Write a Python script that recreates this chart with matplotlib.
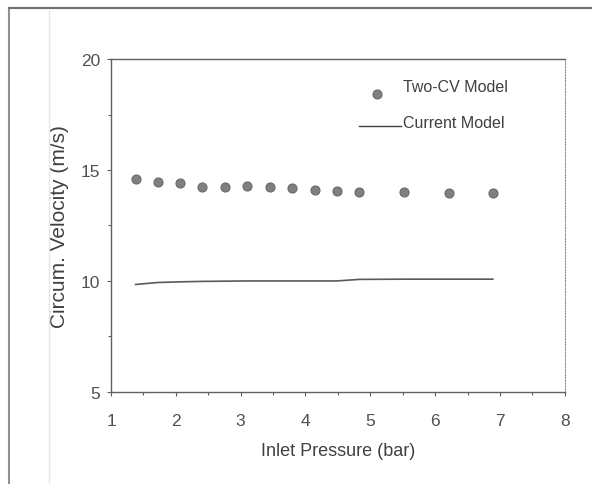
import numpy as np
import matplotlib
matplotlib.use("Agg")
import matplotlib.pyplot as plt
from matplotlib.lines import Line2D

plt.rcParams.update({"font.family": ["Liberation Sans", "DejaVu Sans"]})

# inlet pressure (bar), 20..70 psi in 5 psi steps, then 80, 90, 100 psi
pressure = [1.38, 1.72, 2.07, 2.41, 2.76, 3.10, 3.45, 3.79, 4.14, 4.48, 4.83, 5.52, 6.21, 6.89]
two_cv = [14.6, 14.45, 14.4, 14.25, 14.25, 14.3, 14.22, 14.2, 14.1, 14.05, 14.0, 14.02, 13.95, 13.95]
current = [9.84, 9.93, 9.96, 9.98, 9.99, 10.0, 10.0, 10.0, 10.0, 10.0, 10.07, 10.08, 10.08, 10.08]

fig = plt.figure(figsize=(5.92, 4.85), dpi=100)
ax = fig.add_axes([0.1875, 0.190, 0.7665, 0.686])

ax.plot(pressure, two_cv, "o", ms=6.5, color="#808080", mec="#6a6a6a", mew=0.8)
ax.plot(pressure, current, "-", color="#5a5a5a", lw=1.2)

ax.set_xlim(1, 8); ax.set_ylim(5, 20)
ax.set_xticks(range(1, 9)); ax.set_yticks([5, 10, 15, 20])
ax.set_xticks(np.arange(1.5, 8, 1.0), minor=True)
ax.set_yticks([7.5, 12.5, 17.5], minor=True)
ax.tick_params(which="both", direction="out", length=3, width=0.8, color="#606060",
               labelsize=12.5, labelcolor="#505050")
ax.tick_params(axis="x", pad=12)
ax.tick_params(axis="y", pad=5)
ax.tick_params(which="minor", length=2)
for s in ["left", "bottom", "top"]:
    ax.spines[s].set_color("#606060"); ax.spines[s].set_linewidth(1.0)
ax.spines["right"].set_color("#909090"); ax.spines["right"].set_linestyle((0, (1, 1.5)))

ax.set_ylabel("Circum. Velocity (m/s)", fontsize=15, color="#404040", labelpad=8)
ax.set_xlabel("Inlet Pressure (bar)", fontsize=13, color="#404040", labelpad=10)

# legend drawn as in the scanned original
ax.plot([5.1], [18.42], "o", ms=6.5, color="#808080", mec="#6a6a6a", mew=0.8, clip_on=False)
ax.text(5.5, 18.75, "Two-CV Model", fontsize=11.5, color="#404040", va="center")
ax.plot([4.83, 5.47], [17.0, 17.0], "-", color="#404040", lw=1.0)
ax.text(5.5, 17.15, "Current Model", fontsize=11.5, color="#404040", va="center")

# outer frame of the scanned page
fig.add_artist(Line2D([0.016, 0.016], [0, 0.982], color="#909090", lw=1.5))
fig.add_artist(Line2D([0.016, 1.0], [0.982, 0.982], color="#707070", lw=1.5))
fig.add_artist(Line2D([0.083, 0.083], [0, 0.975], color="#e6e6e6", lw=1.0))

fig.savefig("out.png", dpi=100)
